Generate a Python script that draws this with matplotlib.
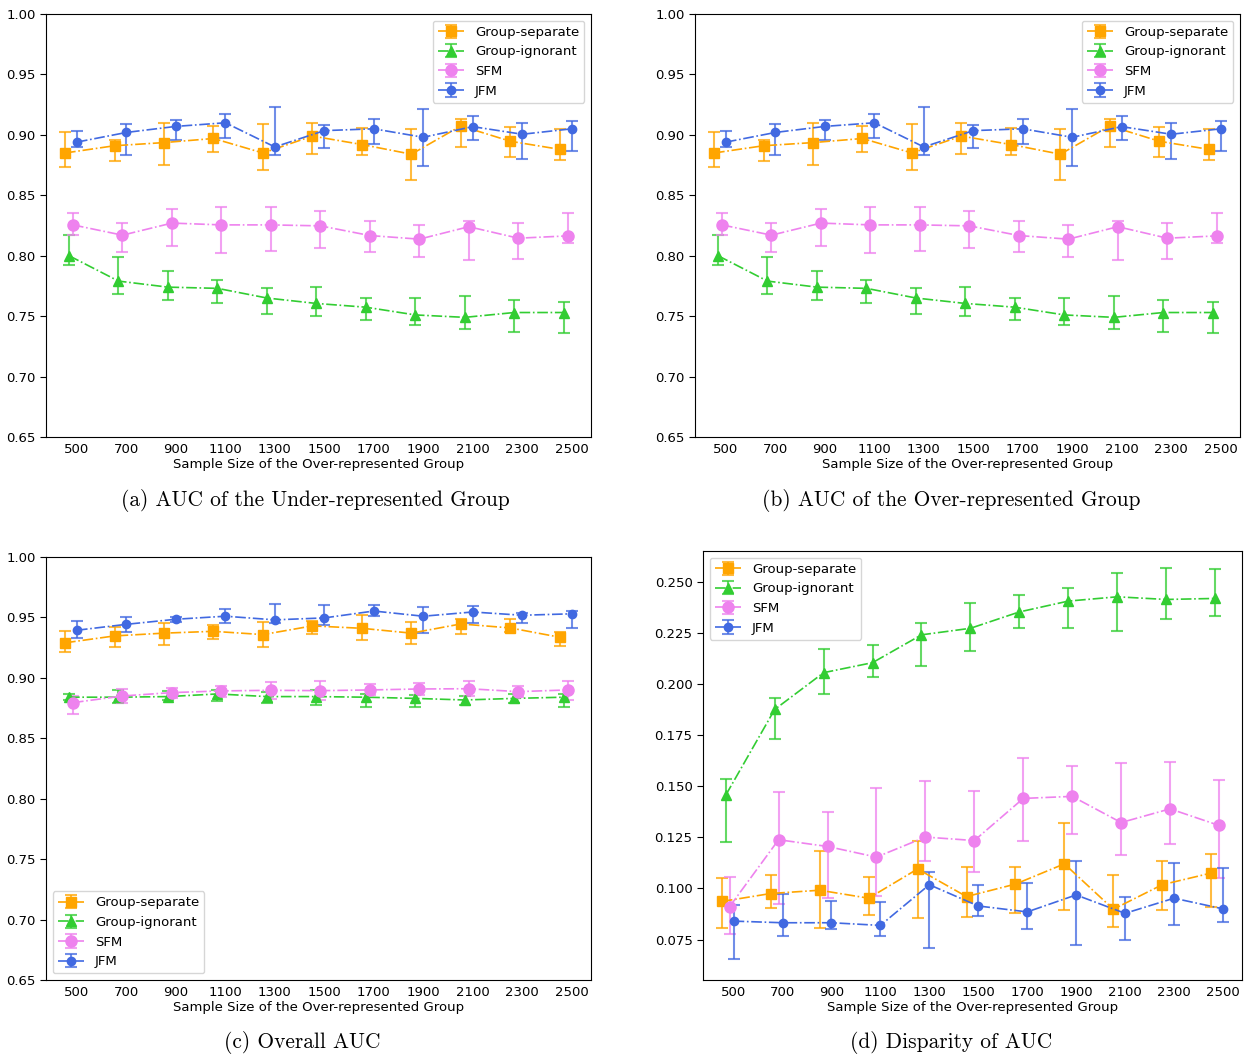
import matplotlib
matplotlib.use("Agg")
import matplotlib.pyplot as plt
from matplotlib.ticker import FormatStrFormatter

# ---- data -------------------------------------------------------------
sizes = [500, 700, 900, 1100, 1300, 1500, 1700, 1900, 2100, 2300, 2500]
tick_labels = [str(s) for s in sizes]
methods = ["Group-separate", "Group-ignorant", "SFM", "JFM"]

# AUC of the under-represented group (mean, lower bar end, upper bar end)
under_sep = [0.885, 0.891, 0.8936, 0.897, 0.885, 0.899, 0.892, 0.884, 0.9074, 0.8947, 0.888]
under_sep_lo = [0.873, 0.878, 0.875, 0.8856, 0.871, 0.884, 0.883, 0.863, 0.890, 0.8815, 0.879]
under_sep_hi = [0.902, 0.896, 0.910, 0.9074, 0.909, 0.910, 0.906, 0.9046, 0.9134, 0.9068, 0.905]
under_ign = [0.800, 0.779, 0.774, 0.773, 0.765, 0.7605, 0.7574, 0.751, 0.749, 0.753, 0.753]
under_ign_lo = [0.792, 0.768, 0.763, 0.761, 0.752, 0.750, 0.747, 0.743, 0.739, 0.737, 0.736]
under_ign_hi = [0.817, 0.799, 0.787, 0.780, 0.773, 0.774, 0.7646, 0.765, 0.767, 0.763, 0.762]
under_sfm = [0.8255, 0.817, 0.827, 0.8255, 0.8255, 0.8247, 0.8167, 0.8137, 0.824, 0.8145, 0.8164]
under_sfm_lo = [0.817, 0.803, 0.808, 0.802, 0.804, 0.806, 0.8034, 0.799, 0.7966, 0.797, 0.8106]
under_sfm_hi = [0.835, 0.827, 0.839, 0.840, 0.840, 0.837, 0.829, 0.8255, 0.829, 0.827, 0.8354]
under_jfm = [0.894, 0.902, 0.907, 0.910, 0.890, 0.9035, 0.905, 0.898, 0.9068, 0.9005, 0.905]
under_jfm_lo = [0.890, 0.883, 0.896, 0.897, 0.883, 0.8895, 0.8925, 0.874, 0.896, 0.880, 0.887]
under_jfm_hi = [0.903, 0.909, 0.912, 0.917, 0.923, 0.9085, 0.9134, 0.9217, 0.9156, 0.910, 0.9118]

# AUC of the over-represented group
over_sep = list(under_sep)
over_sep_lo = list(under_sep_lo)
over_sep_hi = list(under_sep_hi)
over_ign = list(under_ign)
over_ign_lo = list(under_ign_lo)
over_ign_hi = list(under_ign_hi)
over_sfm = list(under_sfm)
over_sfm_lo = list(under_sfm_lo)
over_sfm_hi = list(under_sfm_hi)
over_jfm = list(under_jfm)
over_jfm_lo = list(under_jfm_lo)
over_jfm_hi = list(under_jfm_hi)

# Overall AUC
all_sep = [0.929, 0.9347, 0.937, 0.9385, 0.9358, 0.943, 0.941, 0.937, 0.9446, 0.9413, 0.9336]
all_sep_lo = [0.921, 0.9256, 0.927, 0.932, 0.9256, 0.936, 0.9314, 0.928, 0.936, 0.9377, 0.926]
all_sep_hi = [0.939, 0.9424, 0.9457, 0.944, 0.946, 0.947, 0.952, 0.946, 0.949, 0.9485, 0.938]
all_ign = [0.884, 0.884, 0.8845, 0.8867, 0.8845, 0.8845, 0.884, 0.883, 0.8817, 0.883, 0.884]
all_ign_lo = [0.8817, 0.879, 0.8817, 0.881, 0.879, 0.8776, 0.876, 0.876, 0.8776, 0.879, 0.8757]
all_ign_hi = [0.8867, 0.890, 0.889, 0.890, 0.888, 0.890, 0.887, 0.886, 0.885, 0.8867, 0.887]
all_sfm = [0.8795, 0.885, 0.8878, 0.8892, 0.8897, 0.8894, 0.890, 0.8908, 0.891, 0.8886, 0.890]
all_sfm_lo = [0.870, 0.879, 0.8834, 0.8845, 0.8823, 0.882, 0.8856, 0.8856, 0.885, 0.884, 0.882]
all_sfm_hi = [0.885, 0.891, 0.892, 0.8936, 0.8969, 0.8977, 0.8952, 0.896, 0.897, 0.8933, 0.897]
all_jfm = [0.9394, 0.9443, 0.9485, 0.951, 0.948, 0.9496, 0.9553, 0.951, 0.9545, 0.9518, 0.953]
all_jfm_lo = [0.933, 0.938, 0.946, 0.9457, 0.945, 0.9438, 0.951, 0.937, 0.945, 0.9457, 0.9415]
all_jfm_hi = [0.947, 0.9506, 0.950, 0.9567, 0.961, 0.960, 0.960, 0.959, 0.9597, 0.954, 0.9556]

# Disparity of AUC
dis_sep = [0.0936, 0.0975, 0.0991, 0.0952, 0.1095, 0.096, 0.1021, 0.112, 0.0898, 0.1018, 0.1075]
dis_sep_lo = [0.0806, 0.0906, 0.0808, 0.0868, 0.0857, 0.086, 0.0881, 0.0893, 0.0811, 0.0894, 0.0911]
dis_sep_hi = [0.1052, 0.1065, 0.1182, 0.1054, 0.1233, 0.1106, 0.1103, 0.132, 0.1065, 0.1136, 0.117]
dis_ign = [0.1456, 0.1875, 0.2055, 0.2104, 0.224, 0.2272, 0.2352, 0.2405, 0.2426, 0.2413, 0.2418]
dis_ign_lo = [0.1226, 0.1732, 0.195, 0.2032, 0.209, 0.2163, 0.2272, 0.2273, 0.2258, 0.2319, 0.2331]
dis_ign_hi = [0.1535, 0.1933, 0.217, 0.2191, 0.2298, 0.2397, 0.2433, 0.247, 0.2544, 0.2566, 0.2561]
dis_sfm = [0.0911, 0.1238, 0.1205, 0.1153, 0.1251, 0.1234, 0.144, 0.145, 0.1322, 0.1389, 0.1308]
dis_sfm_lo = [0.0775, 0.0922, 0.0955, 0.0963, 0.1133, 0.1079, 0.1233, 0.1266, 0.1164, 0.1217, 0.1049]
dis_sfm_hi = [0.1054, 0.147, 0.1375, 0.149, 0.1525, 0.1476, 0.1637, 0.1601, 0.1611, 0.1618, 0.1532]
dis_jfm = [0.084, 0.0832, 0.0832, 0.0819, 0.1018, 0.0914, 0.0885, 0.0968, 0.0878, 0.0952, 0.090]
dis_jfm_lo = [0.0655, 0.0766, 0.0799, 0.0766, 0.0709, 0.0865, 0.0799, 0.0722, 0.0746, 0.0819, 0.0837]
dis_jfm_hi = [0.0918, 0.0975, 0.0939, 0.0934, 0.1079, 0.1016, 0.1025, 0.1136, 0.096, 0.1125, 0.1098]

# ---- styling ----------------------------------------------------------
colors = ["orange", "limegreen", "violet", "royalblue"]
markers = ["s", "^", "o", "o"]
msizes = [7, 7, 8, 6]
shifts = [-48, -32, -16, 0]
FS = 9.5

W, H = 1252, 1059
fig = plt.figure(figsize=(W / 100, H / 100), dpi=100)


def px_axes(left, top, right, bottom):
    return fig.add_axes([left / W, (H - bottom) / H, (right - left) / W, (bottom - top) / H])


def panel(ax, series, ylim, yticks, fmt, legend_loc, caption, cap_x, cap_y):
    for k, (mean, lo, hi) in enumerate(series):
        xs = [s + shifts[k] for s in sizes]
        yerr = [[m - l for m, l in zip(mean, lo)], [h - m for m, h in zip(mean, hi)]]
        c = colors[k]
        ax.errorbar(xs, mean, yerr=yerr, color=c, ecolor=matplotlib.colors.to_rgba(c, 0.75),
                    linestyle="-.", linewidth=1.2, marker=markers[k], markersize=msizes[k],
                    capsize=4, elinewidth=1.5, capthick=1.5, label=methods[k])
    ax.set_xlim(375, 2578)
    ax.set_ylim(*ylim)
    ax.set_xticks(sizes)
    ax.set_xticklabels(tick_labels)
    ax.set_yticks(yticks)
    ax.yaxis.set_major_formatter(FormatStrFormatter(fmt))
    ax.tick_params(axis="x", length=0, pad=4, labelsize=FS)
    ax.tick_params(axis="y", length=4, labelsize=FS)
    ax.set_xlabel("Sample Size of the Over-represented Group", fontsize=FS, labelpad=2)
    ax.legend(loc=legend_loc, fontsize=FS)
    fig.text(cap_x / W, 1 - cap_y / H, caption, ha="center", va="center",
             fontsize=15.4, family="cmr10")


auc_ticks = [0.65, 0.70, 0.75, 0.80, 0.85, 0.90, 0.95, 1.00]
dis_ticks = [0.075, 0.100, 0.125, 0.150, 0.175, 0.200, 0.225, 0.250]

ax_a = px_axes(46, 14, 591, 437)
panel(ax_a, [(under_sep, under_sep_lo, under_sep_hi), (under_ign, under_ign_lo, under_ign_hi),
             (under_sfm, under_sfm_lo, under_sfm_hi), (under_jfm, under_jfm_lo, under_jfm_hi)],
      (0.65, 1.0), auc_ticks, "%.2f", "upper right",
      "(a) AUC of the Under-represented Group", 315, 500)

ax_b = px_axes(695, 14, 1240, 437)
panel(ax_b, [(over_sep, over_sep_lo, over_sep_hi), (over_ign, over_ign_lo, over_ign_hi),
             (over_sfm, over_sfm_lo, over_sfm_hi), (over_jfm, over_jfm_lo, over_jfm_hi)],
      (0.65, 1.0), auc_ticks, "%.2f", "upper right",
      "(b) AUC of the Over-represented Group", 951, 500)

ax_c = px_axes(46, 557, 591, 980)
panel(ax_c, [(all_sep, all_sep_lo, all_sep_hi), (all_ign, all_ign_lo, all_ign_hi),
             (all_sfm, all_sfm_lo, all_sfm_hi), (all_jfm, all_jfm_lo, all_jfm_hi)],
      (0.65, 1.0), auc_ticks, "%.2f", "lower left",
      "(c) Overall AUC", 302, 1043)

ax_d = px_axes(703, 551, 1242, 980)
panel(ax_d, [(dis_sep, dis_sep_lo, dis_sep_hi), (dis_ign, dis_ign_lo, dis_ign_hi),
             (dis_sfm, dis_sfm_lo, dis_sfm_hi), (dis_jfm, dis_jfm_lo, dis_jfm_hi)],
      (0.0552, 0.2650), dis_ticks, "%.3f", "upper left",
      "(d) Disparity of AUC", 951, 1043)

fig.savefig("out.png", dpi=100)
